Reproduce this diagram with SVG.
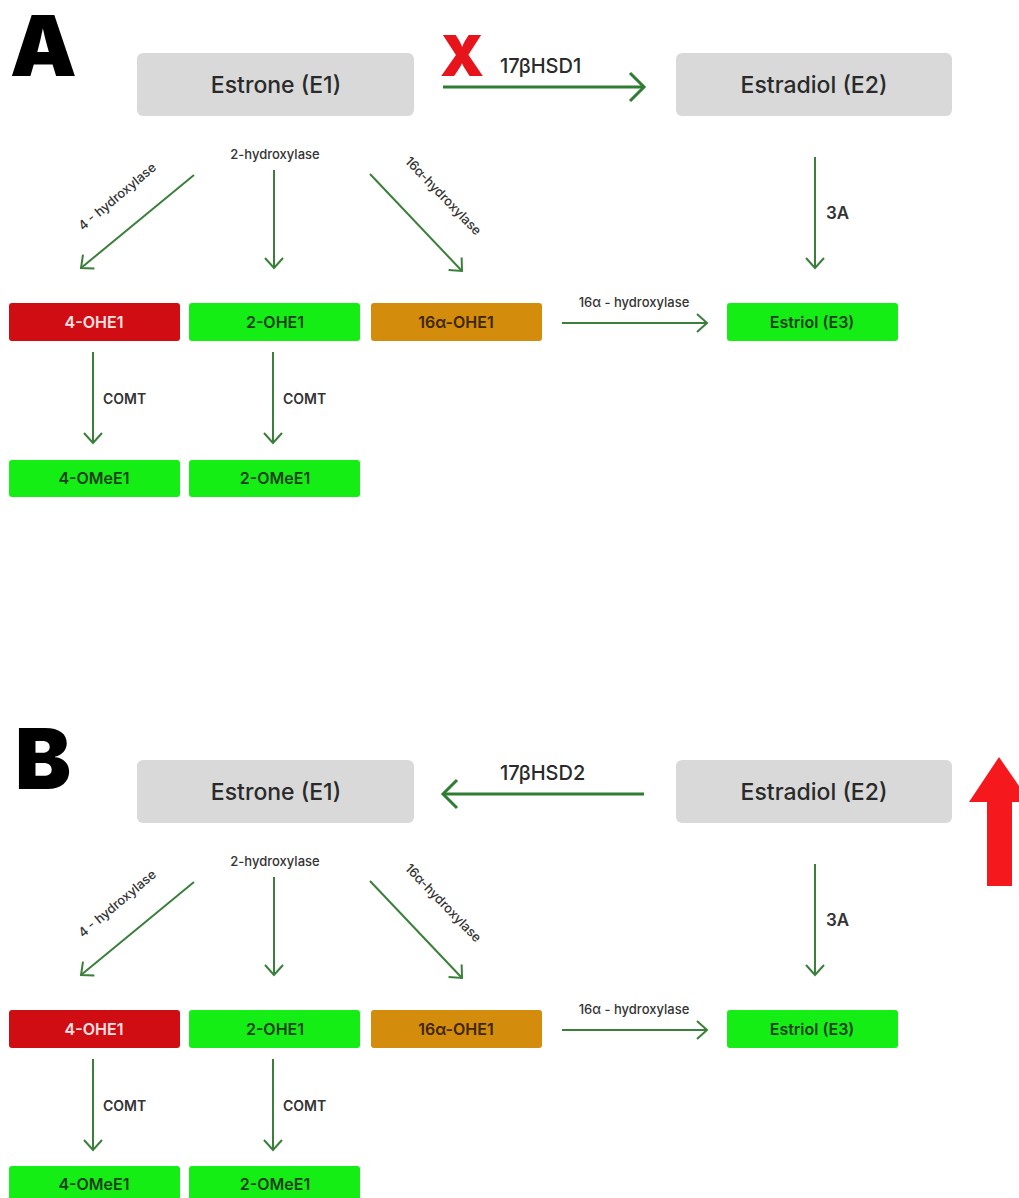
<svg xmlns="http://www.w3.org/2000/svg" width="1019" height="1198" viewBox="0 0 1019 1198">
<defs>
<style>
text{font-family:Inter,"Noto Sans","Liberation Sans",sans-serif;}
.big{font-size:84px;font-weight:900;fill:#000;}
.gbox{fill:#d9d9d9;}
.gt{font-size:23px;font-weight:500;fill:#2a2a2a;text-anchor:middle;}
.st{font-size:16px;font-weight:600;text-anchor:middle;}
.red{fill:#cf0d12;}
.grn{fill:#14ee14;}
.org{fill:#d38c0c;}
.lbl{font-size:13px;font-weight:500;fill:#333;}
.lblm{font-size:14px;font-weight:600;fill:#333;}
.thick{stroke:#2e7d32;stroke-width:3;fill:none;}
.thin{stroke:#3a7f3a;stroke-width:2;fill:none;}
</style>
<marker id="ah" markerUnits="userSpaceOnUse" markerWidth="20" markerHeight="32" refX="16" refY="16" orient="auto">
<path d="M2,2 L16,16 L2,30" fill="none" stroke="#2e7d32" stroke-width="3"/>
</marker>
<marker id="as" markerUnits="userSpaceOnUse" markerWidth="14" markerHeight="22" refX="11" refY="11" orient="auto">
<path d="M1,2 L11,11 L1,20" fill="none" stroke="#3a7f3a" stroke-width="2"/>
</marker>
</defs>
<rect width="1019" height="1198" fill="#fff"/>

<!-- Panel A -->
<text class="big" x="10" y="76">A</text>
<g id="a-estrone"><rect class="gbox" x="137" y="53" width="277" height="63" rx="6"/><text class="gt" x="276" y="93">Estrone (E1)</text></g>
<g id="a-estradiol"><rect class="gbox" x="676" y="53" width="276" height="63" rx="6"/><text class="gt" x="814" y="93">Estradiol (E2)</text></g>
<g id="a-4ohe1"><rect class="red" x="9" y="303" width="171" height="38" rx="3"/><text class="st" x="94" y="328" fill="#ffe2e2">4-OHE1</text></g>
<g id="a-2ohe1"><rect class="grn" x="189" y="303" width="171" height="38" rx="3"/><text class="st" x="275" y="328" fill="#1e3f1e">2-OHE1</text></g>
<g id="a-16ohe1"><rect class="org" x="371" y="303" width="171" height="38" rx="3"/><text class="st" x="456" y="328" fill="#3d2600">16α-OHE1</text></g>
<g id="a-estriol"><rect class="grn" x="727" y="303" width="171" height="38" rx="3"/><text class="st" x="812" y="328" fill="#1e3f1e">Estriol (E3)</text></g>
<g id="a-4omee1"><rect class="grn" x="9" y="460" width="171" height="37" rx="3"/><text class="st" x="94" y="484" fill="#1e3f1e">4-OMeE1</text></g>
<g id="a-2omee1"><rect class="grn" x="189" y="460" width="171" height="37" rx="3"/><text class="st" x="275" y="484" fill="#1e3f1e">2-OMeE1</text></g>
<g id="a-connectors">
<line class="thick" x1="443" y1="87" x2="644" y2="87" marker-end="url(#ah)"/>
<text x="462" y="76" font-size="56" font-weight="900" fill="#e8141c" text-anchor="middle">X</text>
<text x="500" y="73" font-size="20" font-weight="500" fill="#2a2a2a">17βHSD1</text>
<line class="thin" x1="194" y1="175" x2="81" y2="268" marker-end="url(#as)"/>
<text class="lbl" text-anchor="middle" transform="translate(120,200) rotate(-40)">4 - hydroxylase</text>
<line class="thin" x1="274" y1="170" x2="274" y2="268" marker-end="url(#as)"/>
<text class="lbl" x="275" y="159" text-anchor="middle">2-hydroxylase</text>
<line class="thin" x1="370" y1="174" x2="462" y2="271" marker-end="url(#as)"/>
<text class="lbl" text-anchor="middle" transform="translate(440,199) rotate(46)">16α-hydroxylase</text>
<line class="thin" x1="815" y1="157" x2="815" y2="268" marker-end="url(#as)"/>
<text x="826" y="219" font-size="17" font-weight="600" fill="#333">3A</text>
<line class="thin" x1="562" y1="323" x2="707" y2="323" marker-end="url(#as)"/>
<text class="lbl" x="634" y="307" text-anchor="middle">16α - hydroxylase</text>
<line class="thin" x1="93" y1="352" x2="93" y2="443" marker-end="url(#as)"/>
<text class="lblm" x="103" y="404">COMT</text>
<line class="thin" x1="273" y1="352" x2="273" y2="443" marker-end="url(#as)"/>
<text class="lblm" x="283" y="404">COMT</text>
</g>

<!-- Panel B -->
<text class="big" x="15" y="789">B</text>
<g id="b-estrone"><rect class="gbox" x="137" y="760" width="277" height="63" rx="6"/><text class="gt" x="276" y="800">Estrone (E1)</text></g>
<g id="b-estradiol"><rect class="gbox" x="676" y="760" width="276" height="63" rx="6"/><text class="gt" x="814" y="800">Estradiol (E2)</text></g>
<g id="b-4ohe1"><rect class="red" x="9" y="1010" width="171" height="38" rx="3"/><text class="st" x="94" y="1035" fill="#ffe2e2">4-OHE1</text></g>
<g id="b-2ohe1"><rect class="grn" x="189" y="1010" width="171" height="38" rx="3"/><text class="st" x="275" y="1035" fill="#1e3f1e">2-OHE1</text></g>
<g id="b-16ohe1"><rect class="org" x="371" y="1010" width="171" height="38" rx="3"/><text class="st" x="456" y="1035" fill="#3d2600">16α-OHE1</text></g>
<g id="b-estriol"><rect class="grn" x="727" y="1010" width="171" height="38" rx="3"/><text class="st" x="812" y="1035" fill="#1e3f1e">Estriol (E3)</text></g>
<g id="b-4omee1"><rect class="grn" x="9" y="1166" width="171" height="37" rx="3"/><text class="st" x="94" y="1190" fill="#1e3f1e">4-OMeE1</text></g>
<g id="b-2omee1"><rect class="grn" x="189" y="1166" width="171" height="37" rx="3"/><text class="st" x="275" y="1190" fill="#1e3f1e">2-OMeE1</text></g>
<g id="b-up-arrow"><path d="M999,757 L1030,802 L1012,802 L1012,886 L987,886 L987,802 L969,802 Z" fill="#f5191e"/></g>
<g id="b-connectors">
<line class="thick" x1="644" y1="794" x2="443" y2="794" marker-end="url(#ah)"/>
<text x="500" y="780" font-size="20" font-weight="500" fill="#2a2a2a">17βHSD2</text>
<line class="thin" x1="194" y1="882" x2="81" y2="975" marker-end="url(#as)"/>
<text class="lbl" text-anchor="middle" transform="translate(120,907) rotate(-40)">4 - hydroxylase</text>
<line class="thin" x1="274" y1="877" x2="274" y2="975" marker-end="url(#as)"/>
<text class="lbl" x="275" y="866" text-anchor="middle">2-hydroxylase</text>
<line class="thin" x1="370" y1="881" x2="462" y2="978" marker-end="url(#as)"/>
<text class="lbl" text-anchor="middle" transform="translate(440,906) rotate(46)">16α-hydroxylase</text>
<line class="thin" x1="815" y1="864" x2="815" y2="975" marker-end="url(#as)"/>
<text x="826" y="926" font-size="17" font-weight="600" fill="#333">3A</text>
<line class="thin" x1="562" y1="1030" x2="707" y2="1030" marker-end="url(#as)"/>
<text class="lbl" x="634" y="1014" text-anchor="middle">16α - hydroxylase</text>
<line class="thin" x1="93" y1="1059" x2="93" y2="1150" marker-end="url(#as)"/>
<text class="lblm" x="103" y="1111">COMT</text>
<line class="thin" x1="273" y1="1059" x2="273" y2="1150" marker-end="url(#as)"/>
<text class="lblm" x="283" y="1111">COMT</text>
</g>
</svg>
